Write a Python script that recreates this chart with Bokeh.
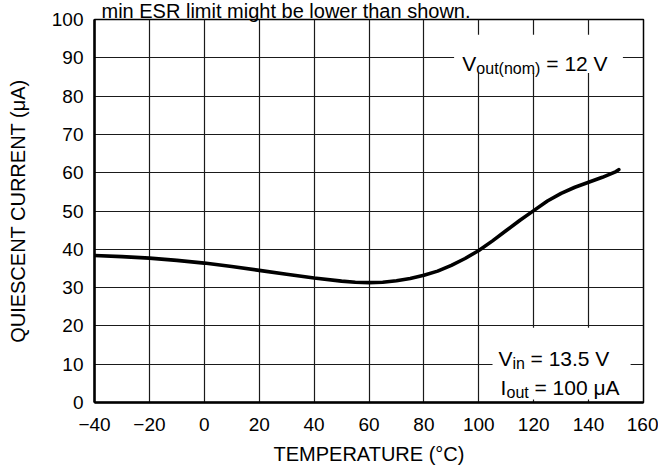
from bokeh.plotting import figure
from bokeh.models import FixedTicker, Label, Range1d
from bokeh.embed import file_html
from bokeh.resources import INLINE

# ---- data ----
temperature = [-40, -30, -20, -10, 0, 10, 20, 30, 40, 50, 55, 60, 65, 70, 75, 80, 85, 90, 95, 100,
               105, 110, 115, 120, 125, 130, 135, 140, 145, 150, 151]
current = [38.4, 38.1, 37.7, 37.1, 36.4, 35.5, 34.5, 33.5, 32.5, 31.7, 31.4, 31.3, 31.4, 31.8, 32.4, 33.2, 34.3, 35.8, 37.6, 39.7,
           42.2, 44.9, 47.6, 50.1, 52.6, 54.6, 56.2, 57.5, 58.8, 60.3, 60.8]

x_ticks = [-40, -20, 0, 20, 40, 60, 80, 100, 120, 140, 160]
x_tick_labels = ["\u221240", "\u221220", "0", "20", "40", "60", "80", "100", "120", "140", "160"]
y_ticks = [0, 10, 20, 30, 40, 50, 60, 70, 80, 90, 100]

x_title = "TEMPERATURE (\u00b0C)"
y_title = "QUIESCENT CURRENT (\u03bcA)"
top_note = "min ESR limit might be lower than shown."

FONT = "Liberation Sans"

p = figure(width=658, height=471, frame_width=549, frame_height=383,
           output_backend="svg", toolbar_location=None,
           x_range=Range1d(-40, 160), y_range=Range1d(0, 100),
           min_border_left=94, min_border_right=15, min_border_top=19, min_border_bottom=69)

p.title.text = top_note
p.title.text_font = FONT
p.title.text_font_size = "20px"
p.title.text_font_style = "normal"
p.title.text_color = "black"
p.title.align = "left"
p.title.offset = 7
p.title.standoff = -5

p.outline_line_color = "black"
p.outline_line_width = 1.5
p.background_fill_color = "white"
p.border_fill_color = "white"

p.xaxis.ticker = FixedTicker(ticks=x_ticks)
p.xaxis.major_label_overrides = {t: l for t, l in zip(x_ticks, x_tick_labels)}
p.yaxis.ticker = FixedTicker(ticks=y_ticks)

for ax in (p.xaxis, p.yaxis):
    ax.axis_line_color = "black"
    ax.axis_line_width = 2.5
    ax.major_tick_line_color = None
    ax.minor_tick_line_color = None
    ax.major_tick_out = 0
    ax.major_tick_in = 0
    ax.major_label_text_font = FONT
    ax.major_label_text_font_size = "19px"
    ax.major_label_text_color = "black"
    ax.axis_label_text_font = FONT
    ax.axis_label_text_font_size = "20px"
    ax.axis_label_text_font_style = "normal"
    ax.axis_label_text_color = "black"

p.xaxis.axis_label = x_title
p.yaxis.axis_label = y_title
p.xaxis.major_label_standoff = 15
p.xaxis.axis_label_standoff = 9
p.yaxis.major_label_standoff = 11
p.yaxis.axis_label_standoff = 20

for g in (p.xgrid, p.ygrid):
    g.grid_line_color = "#1a1a1a"
    g.grid_line_width = 1.2
p.xgrid.ticker = FixedTicker(ticks=x_ticks)
p.ygrid.ticker = FixedTicker(ticks=y_ticks)

# white boxes behind annotations (break the grid)
p.quad(left=[91, 105], right=[152.5, 155.3], bottom=[86, 0.8], top=[96, 19.5],
       fill_color="white", line_color=None)

p.line(temperature, current, line_color="black", line_width=3.6,
       line_join="round", line_cap="round")

def lab(x, y, text, size, xo=0, yo=0):
    p.add_layout(Label(x=x, y=y, text=text, x_offset=xo, y_offset=yo,
                       text_font=FONT, text_font_size=size, text_color="black",
                       text_baseline="alphabetic", text_align="left"))

# V_out(nom) = 12 V
lab(94.0, 88.4, "V", "21px")
lab(94.0, 88.4, "out(nom)", "16px", xo=14, yo=-5)
lab(94.0, 88.4, "= 12 V", "21px", xo=84)

# V_in = 13.5 V
lab(107.2, 11.4, "V", "21px")
lab(107.2, 11.4, "in", "16px", xo=14, yo=-5)
lab(107.2, 11.4, "= 13.5 V", "21px", xo=32)

# I_out = 100 uA
lab(107.9, 4.0, "I", "21px")
lab(107.9, 4.0, "out", "16px", xo=6, yo=-5)
lab(107.9, 4.0, "= 100 \u03bcA", "21px", xo=34)

open("out.html", "w").write(file_html(p, INLINE))
